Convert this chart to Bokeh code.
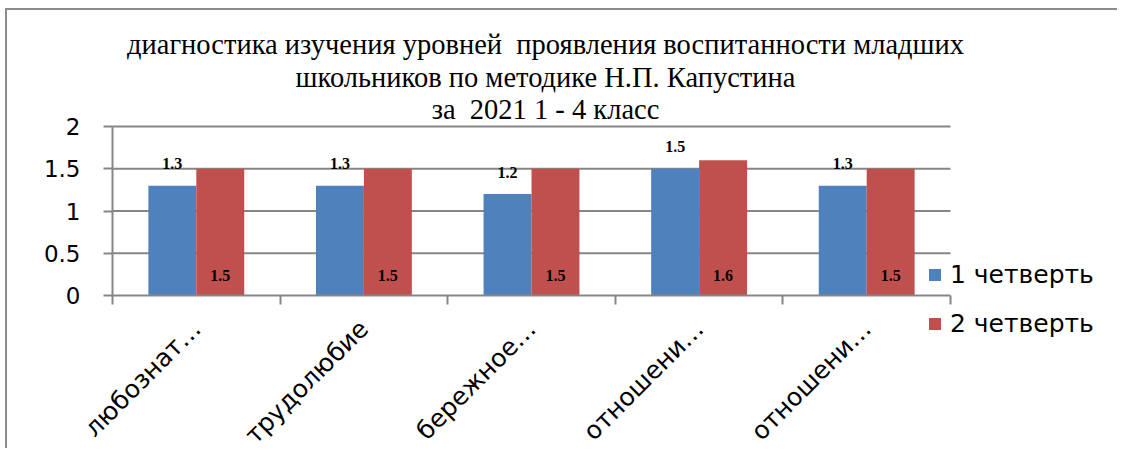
from bokeh.plotting import figure
from bokeh.models import (ColumnDataSource, FixedTicker, Legend, LegendItem, Label,
                          LinearAxis, Range1d)
from bokeh.core.properties import value
from bokeh.embed import file_html
from bokeh.resources import INLINE

categories = ["любознат…", "трудолюбие", "бережное…", "отношени…", "отношени…"]
q1 = [1.3, 1.3, 1.2, 1.5, 1.3]
q2 = [1.5, 1.5, 1.5, 1.6, 1.5]
series_names = ["1 четверть", "2 четверть"]
title_lines = ["диагностика изучения уровней \u00a0проявления воспитанности младших",
               "школьников по методике Н.П. Капустина",
               "за \u00a02021 1 - 4 класс"]
y_ticks = [0, 0.5, 1, 1.5, 2]

BLUE = "#4F81BD"
RED = "#C0504D"
GRID = "#868686"

# canvas / plot-area geometry in pixels (layout only)
W, H = 1112, 440
PL, PR, PT, PB = 105, 943, 116, 285   # plot area box inside the canvas
n = len(categories)
ymax = y_ticks[-1]
sx = (PR - PL) / n
sy = (PB - PT) / ymax
x_range = Range1d(-PL / sx, (W - PL) / sx)
y_range = Range1d(-(H - PB) / sy, PB / sy)

centers = [i + 0.5 for i in range(n)]
bw = 0.286
src = ColumnDataSource(dict(
    x1=[c - bw / 2 for c in centers],
    x2=[c + bw / 2 for c in centers],
    q1=q1, q2=q2,
    l1=[f"{v:.1f}" for v in q1],
    l2=[f"{v:.1f}" for v in q2],
    zero=[0] * n,
))

p = figure(width=W, height=H, output_backend="svg", toolbar_location=None,
           x_range=x_range, y_range=y_range, x_axis_location=None, y_axis_location=None,
           min_border=0, min_border_left=0, min_border_right=0, min_border_top=0,
           min_border_bottom=0)
p.margin = (8, 0, 0, 5)
p.styles = {"border-top": "2px solid #8c8c8c", "border-left": "2px solid #8c8c8c"}
p.outline_line_color = None
p.background_fill_color = "white"
p.border_fill_color = "white"
p.xgrid.visible = False
p.ygrid.visible = False

# horizontal gridlines over the plot area only
grid_src = ColumnDataSource(dict(y=y_ticks[1:], x0=[0] * (len(y_ticks) - 1),
                                 x1=[n] * (len(y_ticks) - 1)))
p.segment(x0="x0", x1="x1", y0="y", y1="y", source=grid_src, line_color=GRID, line_width=2)

r1 = p.vbar(x="x1", top="q1", width=bw, source=src, fill_color=BLUE, line_color=None)
r2 = p.vbar(x="x2", top="q2", width=bw, source=src, fill_color=RED, line_color=None)

p.text(x="x1", y="q1", text="l1", source=src, y_offset=-22,
       text_font=value("Liberation Serif"), text_font_style="bold", text_font_size="16px",
       text_align="center", text_baseline="middle", text_color="black")
p.text(x="x2", y="zero", text="l2", source=src, y_offset=-20,
       text_font=value("Liberation Serif"), text_font_style="bold", text_font_size="16px",
       text_align="center", text_baseline="middle", text_color="black")

# y axis
yax = LinearAxis(fixed_location=0, bounds=(0, ymax))
yax.ticker = FixedTicker(ticks=y_ticks)
yax.major_label_overrides = {0: "0", 0.5: "0.5", 1: "1", 1.5: "1.5", 2: "2"}
yax.major_label_text_font = "DejaVu Sans"
yax.major_label_text_font_size = "23px"
yax.major_label_text_color = "black"
yax.axis_line_color = GRID
yax.axis_line_width = 2
yax.major_tick_line_color = GRID
yax.major_tick_line_width = 2
yax.major_tick_in = 0
yax.major_tick_out = 9
yax.minor_tick_line_color = None
yax.major_label_standoff = 23
p.add_layout(yax, "left")

# x axis
xax = LinearAxis(fixed_location=0, bounds=(0, n))
xax.ticker = FixedTicker(ticks=centers, minor_ticks=list(range(n + 1)))
xax.major_label_overrides = {c: lab for c, lab in zip(centers, categories)}
xax.major_label_orientation = 0.785398
xax.major_label_text_font = "DejaVu Sans"
xax.major_label_text_font_size = "25px"
xax.major_label_text_color = "black"
xax.axis_line_color = GRID
xax.axis_line_width = 2
xax.major_tick_line_color = None
xax.major_tick_in = 0
xax.major_tick_out = 0
xax.minor_tick_line_color = GRID
xax.minor_tick_line_width = 2
xax.minor_tick_in = 0
xax.minor_tick_out = 9
xax.major_label_standoff = 20
p.add_layout(xax, "below")

# title lines (screen units: x from left, y from bottom of canvas)
for i, line in enumerate(title_lines):
    p.add_layout(Label(x=538, y=H - 34 - 32.5 * i, x_units="screen", y_units="screen",
                       text=line, text_font="Liberation Serif", text_font_size="28.5px",
                       text_align="center", text_baseline="middle", text_color="black"))

legend = Legend(items=[LegendItem(label=series_names[0], renderers=[r1]),
                       LegendItem(label=series_names[1], renderers=[r2])],
                location=(920, H - 328), orientation="vertical",
                glyph_width=15, glyph_height=15, label_text_font="DejaVu Sans",
                label_text_font_size="25px", label_text_color="black",
                padding=0, margin=0, spacing=20, label_standoff=8,
                border_line_color=None, background_fill_alpha=0)
p.add_layout(legend, "center")

open("out.html", "w").write(file_html(p, INLINE))
